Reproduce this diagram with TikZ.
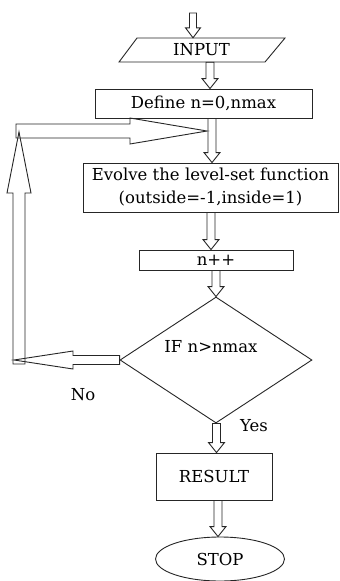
\documentclass[tikz,border=0pt]{standalone}
\usepackage{fontspec}
\setmainfont{DejaVu Serif}
\usetikzlibrary{calc,shapes.geometric}
\newcommand{\blockarrow}[5]{%
  \coordinate (ba-s) at (#1);
  \coordinate (ba-t) at (#2);
  \coordinate (ba-b) at ($(ba-t)!#5!(ba-s)$);
  \draw[blk] ($(ba-s)!#3!90:(ba-t)$) -- ($(ba-b)!#3!-90:(ba-s)$) -- ($(ba-b)!#4!-90:(ba-s)$) -- (ba-t) -- ($(ba-b)!#4!90:(ba-s)$) -- ($(ba-b)!#3!90:(ba-s)$) -- ($(ba-s)!#3!-90:(ba-t)$) -- cycle;}
\tikzset{
  blk/.style={draw=black!85, line width=0.9pt, line join=miter},
  txt/.style={font=\fontsize{16.5}{23}\selectfont, inner sep=0pt},
  box/.style={txt, draw=black!85, line width=0.9pt, align=center},
}
\begin{document}
\begin{tikzpicture}[x=1pt,y=-1pt]
\useasboundingbox[fill=white] (0,0) rectangle (340,581);
% nodes
\coordinate (top) at (193,13);
\node[txt, minimum width=146pt, minimum height=24pt] (input) at (201.5,50) {INPUT};
\draw[blk] (137,38) -- (285,38) -- (265,62) -- (119,62) -- cycle;
\node[box, minimum width=217pt, minimum height=29pt] (define) at (203.5,103.5) {Define n=0,nmax};
\node[box, minimum width=255pt, minimum height=49pt] (evolve) at (210.5,187.5) {Evolve the level-set function\\(outside=-1,inside=1)};
\node[box, minimum width=154pt, minimum height=20pt] (inc) at (216,260) {n++};
\node[diamond, draw=black!85, line width=0.9pt, minimum width=192pt, minimum height=126pt, inner sep=0pt, aspect=1.52] (dec) at (216,360) {};
\node[txt] (iftext) at (211,347) {IF n>nmax};
\node[box, minimum width=116pt, minimum height=47pt] (result) at (214,476.5) {RESULT};
\node[txt, ellipse, draw=black!85, line width=0.9pt, minimum width=129pt, minimum height=44pt] (stop) at (220,559) {STOP};
\node[txt] (no) at (83,395) {No};
\node[txt] (yes) at (254,426) {Yes};
% main flow arrows
\blockarrow{top}{top |- input.north}{3.5pt}{7.5pt}{10pt}
\coordinate (t1) at ($(define.north)+(6.5,0)$);
\blockarrow{t1 |- input.south}{t1}{4pt}{8pt}{10pt}
\coordinate (t2) at ($(evolve.north)+(1.5,0)$);
\blockarrow{t2 |- define.south}{t2}{4pt}{8pt}{10pt}
\coordinate (t3) at ($(inc.north)+(-5,0)$);
\blockarrow{t3 |- evolve.south}{t3}{4pt}{8pt}{10pt}
\blockarrow{dec.north |- inc.south}{dec.north}{4pt}{8pt}{10pt}
\coordinate (t5) at ($(result.north)+(2.5,0)$);
\blockarrow{t5 |- dec.south}{t5}{4pt}{8pt}{10pt}
\coordinate (t6) at ($(stop.north)+(-2,0)$);
\blockarrow{t6 |- result.south}{t6}{4pt}{8pt}{10pt}
% loop back
\coordinate (cb) at (19,364);
\coordinate (ct) at (16,131);
\blockarrow{dec.west}{dec.west -| 14,0}{4.5pt}{9pt}{59pt}
\blockarrow{cb}{cb |- 0,132}{6pt}{12pt}{61pt}
\coordinate (lt) at ($(t2 |- ct)+(-5,0)$);
\blockarrow{ct}{lt}{7pt}{13pt}{77pt}
\end{tikzpicture}
\end{document}
